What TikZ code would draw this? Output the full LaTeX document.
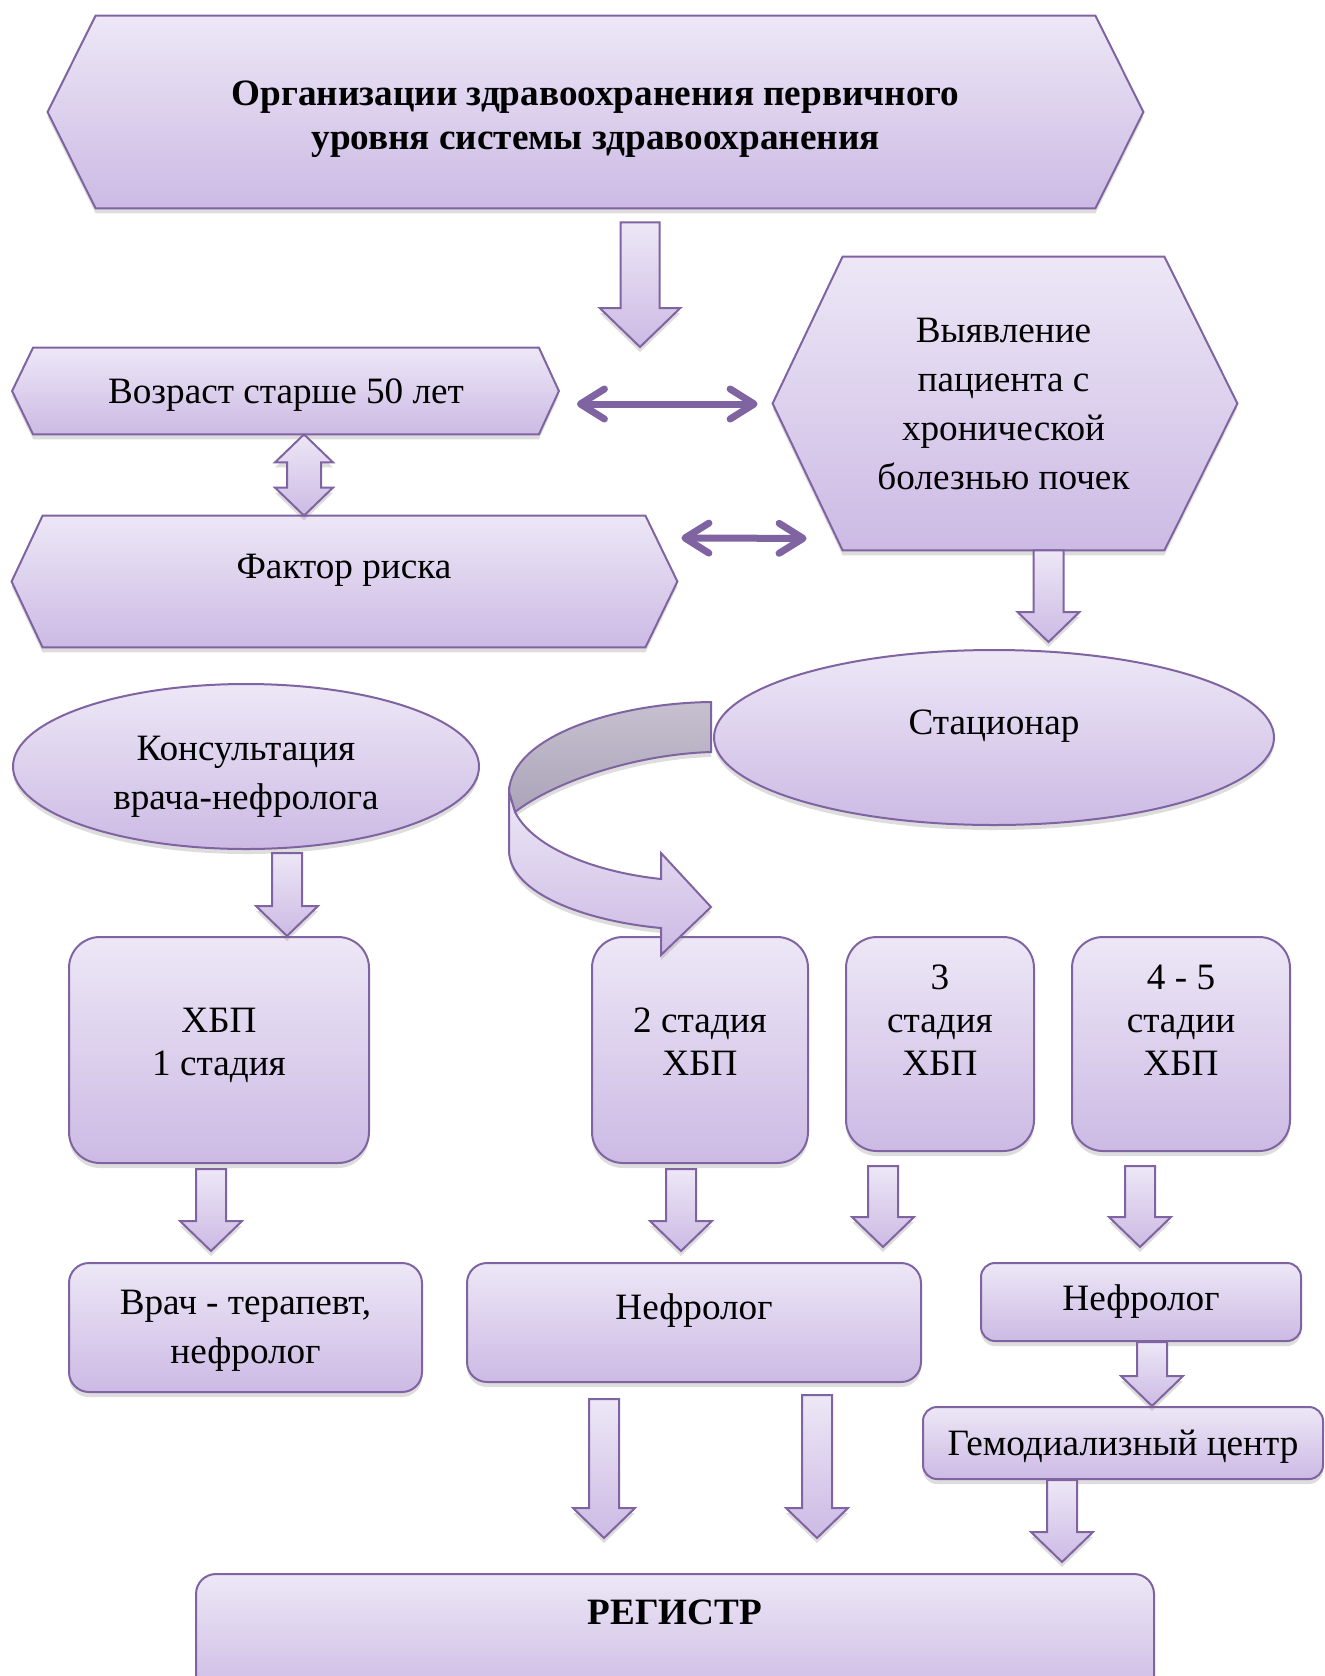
\documentclass[tikz,border=0pt]{standalone}
\usepackage{fontspec}
\setmainfont{Liberation Serif}
\usetikzlibrary{calc}
\usetikzlibrary{positioning}
\usetikzlibrary{shapes.geometric}
\usetikzlibrary{arrows.meta}
\usetikzlibrary{shadows}
\usetikzlibrary{backgrounds}

\definecolor{lilacline}{HTML}{8064A2}
\definecolor{lilactop}{HTML}{EDE7F6}
\definecolor{lilacbot}{HTML}{CCBAE4}
\definecolor{greytop}{HTML}{C6C0CF}
\definecolor{greybot}{HTML}{ACA4B9}

\newcommand{\bodyfont}{\fontsize{18.6}{24.5}\selectfont}

\tikzset{
  lilac/.style={draw=lilacline, line width=1pt, top color=lilactop, bottom color=lilacbot,
    drop shadow={shadow xshift=0pt, shadow yshift=-2.5pt, opacity=0.22, fill=black!60}},
  hexbody/.style={inner sep=0pt, align=center, font=\bodyfont},
  roundbox/.style={lilac, rectangle, rounded corners=7pt, inner sep=0pt, align=center, font=\bodyfont},
  stagebox/.style={roundbox, rounded corners=15.5pt, font={\fontsize{18.6}{21.5}\selectfont}},
  oval/.style={lilac, ellipse, inner sep=0pt, align=center, font=\bodyfont},
  link/.style={draw=lilacline, line width=3.5pt, >={Straight Barb[length=12pt,width=15pt,round]}, <->},
}

% hexagon round a body node: #1 node, #2 left point, #3 right point
\newcommand{\hexframe}[3]{%
  \path[lilac] (#1.north west) -- (#1.north east) -- ([xshift=#3]#1.east) -- (#1.south east)
    -- (#1.south west) -- ([xshift=-#2]#1.west) -- cycle ; }

% block arrow pointing down: [#1 scale] #2 x, #3 from, #4 to
\newcommand{\blkdown}[4][1]{%
  \path[lilac] let \p1=(#2,0), \p2=#3, \p3=#4 in
    (\x1-#1*7.5pt,\y2) -- (\x1+#1*7.5pt,\y2) -- (\x1+#1*7.5pt,\y3+#1*15pt)
    -- (\x1+#1*15.5pt,\y3+#1*15pt) -- (\x1,\y3) -- (\x1-#1*15.5pt,\y3+#1*15pt)
    -- (\x1-#1*7.5pt,\y3+#1*15pt) -- cycle ; }

% block arrow with two heads: #1 x, #2 top, #3 bottom
\newcommand{\blkupdown}[3]{%
  \path[lilac] let \p1=(#1,0), \p2=#2, \p3=#3 in
    (\x1,\y2) -- (\x1+14.5pt,\y2-14pt) -- (\x1+8.5pt,\y2-14pt) -- (\x1+8.5pt,\y3+14pt)
    -- (\x1+14.5pt,\y3+14pt) -- (\x1,\y3) -- (\x1-14.5pt,\y3+14pt) -- (\x1-8.5pt,\y3+14pt)
    -- (\x1-8.5pt,\y2-14pt) -- (\x1-14.5pt,\y2-14pt) -- cycle ; }

\begin{document}
\begin{tikzpicture}[x=0.5pt, y=-0.5pt]

    \useasboundingbox (0,0) rectangle (1325,1676) ; %

    \node[hexbody, minimum width=499.5pt, minimum height=96pt, text height=42pt, font={\fontsize{18.6}{22}\selectfont\bfseries}] (org) at (595.5,112) {Организации здравоохранения первичного\\уровня системы здравоохранения} ; %
    \coordinate (orgtip) at (640,347) ; %

    \node[hexbody, minimum width=252.5pt, minimum height=43pt, text height=16pt] (age) at (286,391) {Возраст старше 50 лет} ; %
    \node[hexbody, minimum width=301pt, minimum height=65.5pt, text depth=14.7pt] (risk) at (344,581.5) {Фактор риска} ; %
    \node[hexbody, minimum width=160.5pt, minimum height=146.5pt] (detect) at (1003.5,403.5) {Выявление\\пациента с\\хронической\\болезнью почек} ; %

    \node[oval, minimum width=280pt, minimum height=87.5pt, text depth=15pt] (clinic) at (994,737.5) {Стационар} ; %
    \node[oval, minimum width=233pt, minimum height=82.5pt, text height=47pt] (consult) at (246,766.5) {Консультация\\врача-нефролога} ; %

    \node[stagebox, minimum width=150pt, minimum height=113pt, text depth=8.5pt] (st1) at (219,1050) {ХБП\\1 стадия} ; %
    \node[stagebox, minimum width=108pt, minimum height=113pt, text depth=8.5pt] (st2) at (700,1050) {2 стадия\\ХБП} ; %
    \node[stagebox, minimum width=94pt, minimum height=107pt, text depth=24pt, right=18pt of st2.north east, anchor=north west] (st3) {3\\стадия\\ХБП} ; %
    \node[stagebox, minimum width=109pt, minimum height=107pt, text depth=24pt, right=18pt of st3.north east, anchor=north west] (st45) {4 - 5\\стадии\\ХБП} ; %

    \node[roundbox, rounded corners=10pt, minimum width=176.5pt, minimum height=64.5pt, text height=40pt] (therap) at (245.5,1327.5) {Врач - терапевт,\\нефролог} ; %
    \node[roundbox, rounded corners=10pt, minimum width=227pt, minimum height=59.5pt, text depth=15.5pt] (neph1) at (694,1322.5) {Нефролог} ; %
    \node[roundbox, minimum width=160pt, minimum height=39pt] (neph2) at (1141,1302) {Нефролог} ; %
    \node[roundbox, minimum width=200pt, minimum height=36pt, text height=16pt] (dial) at (1123,1443) {Гемодиализный центр} ; %
    \node[roundbox, rounded corners=10pt, minimum width=479pt, minimum height=63pt, text depth=25pt, font=\bodyfont\bfseries] (reg) at (675,1637) {РЕГИСТР} ; %

    \begin{scope}[on background layer]
      \fill[white] (0,0) rectangle (1325,1676) ; %
      \hexframe{org}{24pt}{24pt}
      \hexframe{age}{10.5pt}{10pt}
      \hexframe{risk}{15.5pt}{16pt}
      \hexframe{detect}{35pt}{36.5pt}
    \end{scope}

    \blkdown[1.3]{640}{([yshift=-7pt]org.south)}{(orgtip)}
    \blkupdown{304}{(age.south)}{(risk.north)}
    \draw[link] ([shift={(38,13)}]age.east) -- ([shift={(-85,0.5)}]detect.west) ; %
    \draw[link] ([shift={(36,-43.5)}]risk.east) -- ([shift={(-36,-12)}]detect.south west) ; %

    \blkdown{1048.5}{(detect.south)}{([yshift=3.5pt]clinic.north)}
    \blkdown{287}{([yshift=-1.5pt]consult.south)}{(st1.north)}

    % curved arrow from the hospital to stage 2
    \begin{scope}[shift={(clinic.west)}]
      \path[lilac, top color=greytop, bottom color=greybot] (-2,-35.5) .. controls (-94,-34.5) and (-202,-2.5) .. (-204,54.5)
        -- (-198,74.5) .. controls (-160,45) and (-80,17) .. (-2,14.5) -- cycle ; %
      \path[lilac] (-204,54.5) -- (-204,112.5) .. controls (-204,157) and (-124,184) .. (-52,190.5)
        -- (-52,217.5) -- (-2,169.5) -- (-52,115.5) -- (-52,141.5)
        .. controls (-114,135) and (-179,112) .. (-198,74.5) -- cycle ; %
    \end{scope}

    \blkdown{211}{([yshift=-2.5pt]st1.south)}{([yshift=5.5pt]therap.north)}
    \blkdown{681}{([yshift=-2.5pt]st2.south)}{([yshift=5.5pt]neph1.north)}
    \blkdown{883}{([yshift=-7pt]st3.south)}{([yshift=7.5pt]neph1.north)}
    \blkdown{1140}{([yshift=-7pt]st45.south)}{([yshift=7.5pt]neph2.north)}
    \blkdown{1152}{(neph2.south)}{(dial.north)}
    \blkdown{1062}{(dial.south)}{([yshift=5.5pt]reg.north)}
    \blkdown{604}{([yshift=-8pt]neph1.south)}{([yshift=17.5pt]reg.north)}
    \blkdown{817}{([yshift=-6pt]neph1.south)}{([yshift=17.5pt]reg.north)}

\end{tikzpicture}
\end{document}
